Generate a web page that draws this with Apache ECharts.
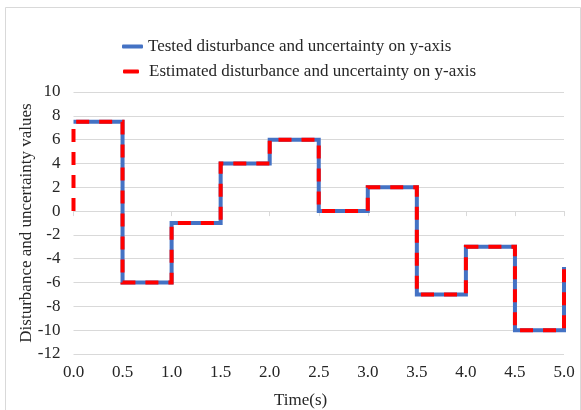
<!DOCTYPE html>
<html>
<head>
<meta charset="utf-8">
<script src="https://cdn.jsdelivr.net/npm/echarts@6/dist/echarts.min.js"></script>
<style>
  html, body { margin: 0; padding: 0; background: #fff; }
  #chart { width: 581px; height: 410px; }
</style>
</head>
<body>
<div id="chart"></div>
<script>
// Switching instants (s) and the level held after each one
const switchTimes = [0, 0.5, 1.0, 1.5, 2.0, 2.5, 3.0, 3.5, 4.0, 4.5, 5.0];
const testedLevels = [7.5, -6, -1, 4, 6, 0, 2, -7, -3, -10, -4.7];
// The estimate starts from zero before jumping to the first level
const estimatedStart = [0, 0];
const estimatedLevels = [7.5, -6, -1, 4, 6, 0, 2, -7, -3, -10, -4.7];

const xTicks = { min: 0, max: 5, interval: 0.5 };
const yTicks = { min: -12, max: 10, interval: 2 };

const testedName = 'Tested disturbance and uncertainty on y-axis';
const estimatedName = 'Estimated disturbance and uncertainty on y-axis';

const testedData = switchTimes.map((t, i) => [t, testedLevels[i]]);
const estimatedData = [estimatedStart].concat(switchTimes.map((t, i) => [t, estimatedLevels[i]]));

const serif = '"Liberation Serif", "Times New Roman", serif';
const textColor = '#262626';
const gridColor = '#d9d9d9';
const fontSize = 17;

const chart = echarts.init(document.getElementById('chart'), null, { renderer: 'canvas' });

chart.setOption({
  animation: false,
  backgroundColor: '#fff',
  textStyle: { fontFamily: serif },
  graphic: [
    {
      type: 'rect',
      shape: { x: 5.5, y: 7.5, width: 575, height: 410 },
      style: { fill: 'none', stroke: '#d9d9d9', lineWidth: 1 },
      silent: true
    },
    {
      type: 'text',
      left: 274, top: 392,
      style: { text: 'Time(s)', font: fontSize + 'px ' + serif, fill: textColor }
    }
  ],
  legend: [
    {
      data: [{ name: testedName, icon: 'roundRect', itemStyle: { color: '#4472C4' } }],
      left: 117, top: 33,
      itemWidth: 21, itemHeight: 4,
      textStyle: { fontFamily: serif, fontSize: fontSize, color: textColor }
    },
    {
      data: [{ name: estimatedName, icon: 'roundRect', itemStyle: { color: '#FF0000' } }],
      left: 118, top: 58,
      itemWidth: 16, itemHeight: 4,
      textStyle: { fontFamily: serif, fontSize: fontSize, color: textColor, padding: [0, 0, 0, 5] }
    }
  ],
  grid: { left: 73.5, right: 17, top: 92, bottom: 56, containLabel: false },
  xAxis: [
    {
      type: 'value',
      min: xTicks.min, max: xTicks.max, interval: xTicks.interval,
      axisLine: { show: false, onZero: false },
      axisTick: { show: false },
      splitLine: { show: false },
      axisLabel: {
        margin: 10,
        fontFamily: serif, fontSize: fontSize, color: textColor,
        formatter: v => v.toFixed(1)
      }
    },
    {
      type: 'value',
      position: 'bottom',
      min: xTicks.min, max: xTicks.max, interval: xTicks.interval,
      axisLine: { show: true, onZero: true, lineStyle: { color: gridColor, width: 1 } },
      axisTick: { show: true, length: 5, lineStyle: { color: gridColor } },
      splitLine: { show: false },
      axisLabel: { show: false }
    }
  ],
  yAxis: {
    type: 'value',
    min: yTicks.min, max: yTicks.max, interval: yTicks.interval,
    name: 'Disturbance and uncertainty values',
    nameLocation: 'middle',
    nameGap: 38,
    nameMoveOverlap: false,
    nameTextStyle: { fontFamily: serif, fontSize: fontSize, color: textColor },
    axisLine: { show: false },
    axisTick: { show: false },
    splitLine: { lineStyle: { color: gridColor, width: 1 } },
    axisLabel: { margin: 13, fontFamily: serif, fontSize: fontSize, color: textColor }
  },
  series: [
    {
      name: testedName,
      type: 'line',
      xAxisIndex: 0,
      step: 'end',
      data: testedData,
      showSymbol: false,
      symbol: 'none',
      z: 2,
      lineStyle: { color: '#4472C4', width: 4, join: 'miter' },
      itemStyle: { color: '#4472C4' }
    },
    {
      name: estimatedName,
      type: 'line',
      xAxisIndex: 0,
      step: 'end',
      data: estimatedData,
      showSymbol: false,
      symbol: 'none',
      z: 3,
      lineStyle: { color: '#FF0000', width: 4, type: [13, 10], cap: 'butt', join: 'miter' },
      itemStyle: { color: '#FF0000' }
    }
  ]
});
</script>
</body>
</html>
